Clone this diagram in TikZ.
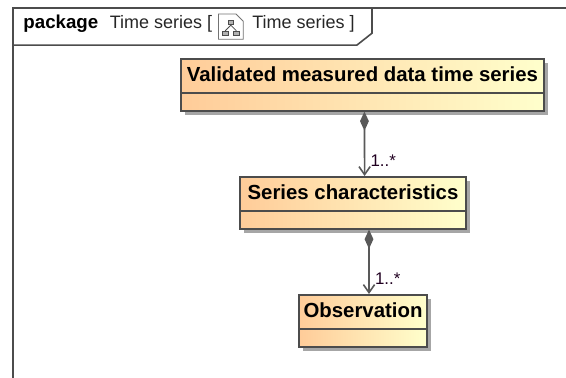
\documentclass[tikz,border=0pt]{standalone}
\usepackage{fontspec}
\setmainfont{Liberation Sans}
\usetikzlibrary{arrows.meta,shadows,positioning}

\definecolor{classleft}{HTML}{FFCC99}
\definecolor{classright}{HTML}{FFFFCC}
\tikzset{frame line/.style={draw=black!70,line width=0.04cm},
class part/.style={draw=black!70,line width=0.04cm,left color=classleft,right color=classright,inner sep=0,drop shadow={shadow xshift=0.1cm,shadow yshift=-0.1cm,fill=black!35,opacity=1}},
class name/.style={class part,anchor=north,minimum height=0.86cm,font=\fontsize{14.5pt}{16pt}\bfseries,text height=0.36cm,text depth=0.1cm},
class body/.style={class part,minimum height=0.44cm,below=-0.04cm of #1},
composition/.style={draw=black!65,line width=0.04cm,{Diamond[length=0.48cm,width=0.22cm]}-{Straight Barb[length=0.2cm,width=0.28cm]}},
multiplicity/.style={font=\fontsize{12pt}{14pt}\selectfont,text=black!75!violet,anchor=west,inner sep=0.13cm},
tab keyword/.style={font=\fontsize{13.3pt}{15pt}\bfseries,anchor=west,inner sep=0},
tab text/.style={font=\fontsize{12.8pt}{15pt}\selectfont,text=black!85,anchor=west,inner sep=0},
diagram icon/.style={draw=black!55,fill=white,line width=0.02cm},
icon part/.style={draw=black!70,fill=black!30,line width=0.02cm,minimum width=0.14cm,minimum height=0.1cm,inner sep=0}}

\begin{document}
\begin{tikzpicture}
\useasboundingbox (0,0) rectangle (14.15,9.45);

%% frame and tab
\coordinate (ftl) at (0.33,9.25);
\coordinate (fbl) at (0.33,0);
\coordinate (ftr) at (14.15,9.25);
\coordinate (tabl) at (0.33,8.32);
\coordinate (tabc) at (8.92,8.32);
\coordinate (tabr) at (9.30,8.62);
\coordinate (tabt) at (9.30,9.25);
\draw [frame line] (fbl) -- (ftl) -- (ftr);
\draw [frame line] (tabl) -- (tabc) -- (tabr) -- (tabt);

%% tab labels
\node [tab keyword] (lblpkg) at (0.58,8.85) {package};
\node [tab text] (lblname) at (2.74,8.85) {Time series [};
\node [tab text] (lbldiag) at (6.30,8.85) {Time series ]};

%% diagram icon
\draw [diagram icon] (5.46,9.10) -- (5.90,9.10) -- (6.08,8.92) -- (6.08,8.47) -- (5.46,8.47) -- cycle;
\node [icon part] (icona) at (5.77,8.88) {};
\node [icon part] (iconb) at (5.63,8.62) {};
\node [icon part] (iconc) at (5.91,8.62) {};
\draw [draw=black!70,line width=0.02cm] (icona.south) -- (iconb.north);
\draw [draw=black!70,line width=0.02cm] (icona.south) -- (iconc.north);

%% classes
\node [class name,minimum width=9.08cm] (validated) at (9.06,8.00) {Validated measured data time series};
\node [class body=validated,minimum width=9.08cm] (validatedbody) {};
\node [class name,minimum width=5.65cm] (series) at (8.825,5.05) {Series characteristics};
\node [class body=series,minimum width=5.65cm] (seriesbody) {};
\node [class name,minimum width=3.2cm] (observation) at (9.075,2.10) {Observation};
\node [class body=observation,minimum width=3.2cm] (observationbody) {};

%% associations
\draw [composition] ([xshift=0.05cm]validatedbody.south) -- ([xshift=0.29cm]series.north) node [multiplicity,pos=0.765] (multa) {1..*};
\draw [composition] ([xshift=0.40cm]seriesbody.south) -- ([xshift=0.15cm]observation.north) node [multiplicity,pos=0.77] (multb) {1..*};

\end{tikzpicture}
\end{document}
